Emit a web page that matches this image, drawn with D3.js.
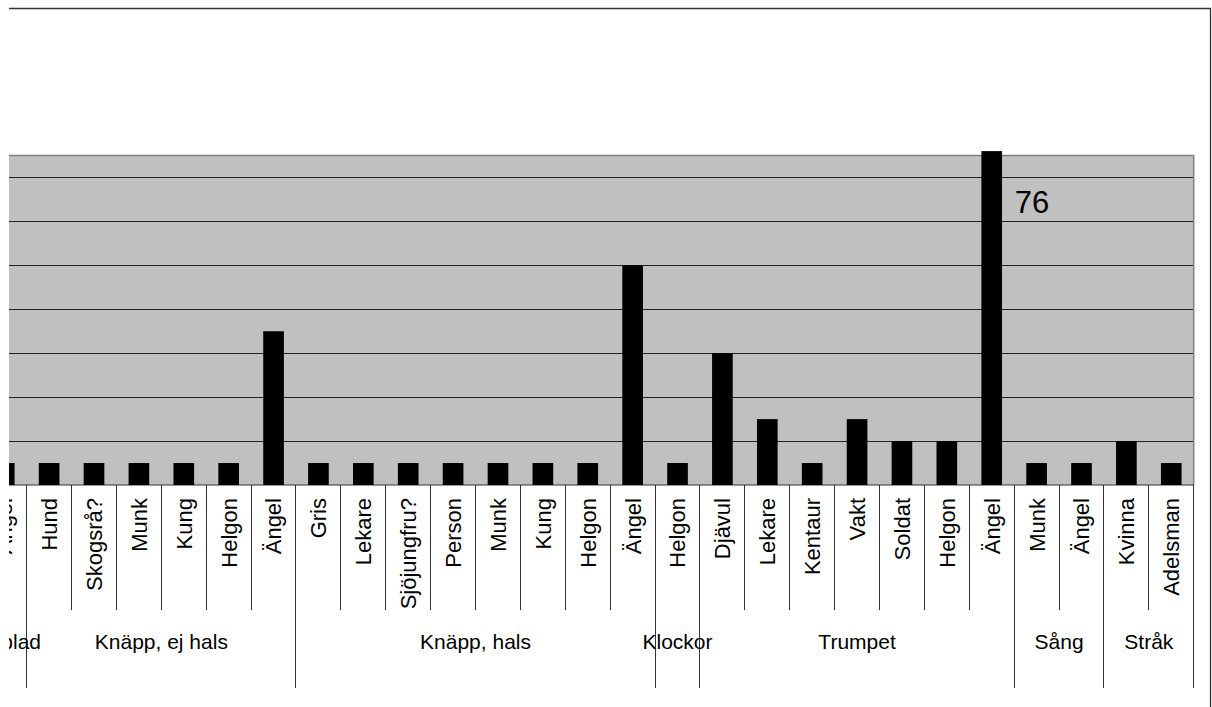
<!DOCTYPE html>
<html>
<head>
<meta charset="utf-8">
<script src="https://cdn.jsdelivr.net/npm/d3@7"></script>
<style>
body { margin: 0; background: #fff; }
text { font-family: "Liberation Sans", Arial, sans-serif; fill: #000; }
</style>
</head>
<body>
<svg width="1212" height="707"></svg>
<script>
var svg = d3.select('svg');

// data (first group is cut off on the left)
var groups = ["Rörblad", "Knäpp, ej hals", "Knäpp, hals", "Klockor", "Trumpet", "Sång", "Stråk"];
var groupSizes = [1, 6, 8, 1, 7, 2, 2];
var categories = ["Ängel",
    "Hund", "Skogsrå?", "Munk", "Kung", "Helgon", "Ängel",
    "Gris", "Lekare", "Sjöjungfru?", "Person", "Munk", "Kung", "Helgon", "Ängel",
    "Helgon",
    "Djävul", "Lekare", "Kentaur", "Vakt", "Soldat", "Helgon", "Ängel",
    "Munk", "Ängel",
    "Kvinna", "Adelsman"];
var values = [5,
    5, 5, 5, 5, 5, 35,
    5, 5, 5, 5, 5, 5, 5, 50,
    5,
    30, 15, 5, 15, 10, 10, 76,
    5, 5,
    10, 5];
var gridTicks = [10, 20, 30, 40, 50, 60, 70];
var yMax = 75;
var labelled = [22]; // bar that carries a value label

var plotLeft = -18.2, plotRight = 1193.7, plotTop = 155.5, plotBottom = 485;

var x = d3.scaleBand()
    .domain(d3.range(categories.length))
    .range([plotLeft, plotRight])
    .paddingInner(0).paddingOuter(0);

var y = d3.scaleLinear()
    .domain([0, yMax])
    .range([plotBottom, plotTop]);

var bw = x.bandwidth();
var barW = bw * 0.46;

// the picture is a crop of a wider chart, everything left of x=9 is hidden
svg.append('clipPath').attr('id', 'crop')
    .append('rect').attr('x', 9).attr('y', 0).attr('width', 1203).attr('height', 707);

var g = svg.append('g').attr('clip-path', 'url(#crop)');

// plot background
g.append('rect')
    .attr('x', plotLeft - 40)
    .attr('y', y(yMax))
    .attr('width', plotRight - plotLeft + 40)
    .attr('height', y(0) - y(yMax))
    .attr('fill', '#c0c0c0');

// gridlines
var grid = g.append('g')
    .attr('transform', 'translate(' + plotRight + ',0)')
    .call(d3.axisLeft(y).tickValues(gridTicks).tickSize(plotRight - plotLeft + 40).tickFormat(''));
grid.select('.domain').remove();
grid.selectAll('line').attr('stroke', '#222').attr('stroke-width', 1).attr('shape-rendering', 'crispEdges');

// plot border (top, right) in grey
g.append('path')
    .attr('d', 'M' + (plotLeft - 40) + ',' + y(yMax) + 'H' + plotRight + 'V' + y(0))
    .attr('fill', 'none')
    .attr('stroke', '#808080')
    .attr('stroke-width', 1.5);

// category axis line
g.append('line')
    .attr('x1', plotLeft - 40).attr('x2', plotRight)
    .attr('y1', y(0)).attr('y2', y(0))
    .attr('stroke', '#333').attr('stroke-width', 1.2);

// bars
g.selectAll('rect.bar')
    .data(values)
    .enter()
    .append('rect')
    .attr('class', 'bar')
    .attr('x', function (d, i) {
        return x(i) + (bw - barW) / 2;
    })
    .attr('y', function (d) {
        return y(d);
    })
    .attr('width', barW)
    .attr('height', function (d) {
        return y(0) - y(d);
    })
    .attr('fill', '#000');

// value label
g.selectAll('text.val')
    .data(labelled)
    .enter()
    .append('text')
    .attr('class', 'val')
    .attr('x', function (i) { return x(i) + bw / 2 + 23; })
    .attr('y', function (i) { return y(values[i]) + 62; })
    .attr('font-size', 31)
    .text(function (i) { return values[i]; });

// group starts
var groupStart = [];
var k = 0;
groupSizes.forEach(function (n) {
    groupStart.push(k);
    k += n;
});

// separators between categories
var bounds = d3.range(categories.length + 1);
g.selectAll('line.sep')
    .data(bounds)
    .enter()
    .append('line')
    .attr('class', 'sep')
    .attr('x1', function (i) { return i < categories.length ? x(i) : plotRight; })
    .attr('x2', function (i) { return i < categories.length ? x(i) : plotRight; })
    .attr('y1', y(0))
    .attr('y2', function (i) {
        return (groupStart.indexOf(i) >= 0 || i === categories.length) ? 688 : 610;
    })
    .attr('stroke', '#333')
    .attr('stroke-width', 1)
    .attr('shape-rendering', 'crispEdges');

// category labels
g.selectAll('text.cat')
    .data(categories)
    .enter()
    .append('text')
    .attr('class', 'cat')
    .attr('transform', function (d, i) {
        return 'translate(' + (x(i) + bw / 2) + ',498) rotate(-90)';
    })
    .attr('text-anchor', 'end')
    .attr('dy', '0.36em')
    .attr('font-size', 22)
    .text(function (d) { return d; });

// group labels
g.selectAll('text.grp')
    .data(groups)
    .enter()
    .append('text')
    .attr('class', 'grp')
    .attr('x', function (d, i) {
        var a = x(groupStart[i]);
        var b = a + groupSizes[i] * bw;
        return (a + b) / 2;
    })
    .attr('y', 649)
    .attr('text-anchor', 'middle')
    .attr('font-size', 21)
    .text(function (d) { return d; });

// chart outer border
svg.append('path')
    .attr('d', 'M9,8.5H1210.5V707')
    .attr('fill', 'none')
    .attr('stroke', '#333')
    .attr('stroke-width', 1.3);
</script>
</body>
</html>
